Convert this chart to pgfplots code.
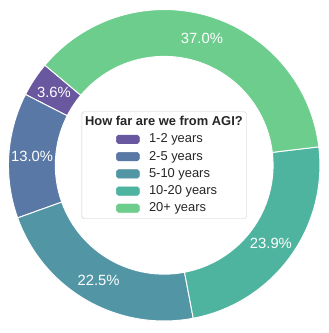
\documentclass[border=0pt]{standalone}
\usepackage{pgfplots}
\pgfplotsset{compat=1.18}
\usepackage{pgfplotstable}
\usepackage{fontspec}
\setmainfont{Liberation Sans}
\definecolor{c1}{HTML}{6958A0}
\definecolor{c2}{HTML}{5A78A5}
\definecolor{c3}{HTML}{5296A5}
\definecolor{c4}{HTML}{4EB4A0}
\definecolor{c5}{HTML}{6CCD8C}
\definecolor{txt}{HTML}{262626}
\pgfplotstableread{
value
3.6
13.0
22.5
23.9
37.0
}\agidata
\pgfplotsset{agipatch/.style={legend image code/.code={\path (-33bp,0); \fill[#1] (0bp,-4.5bp) rectangle (24bp,4.5bp);}}}
\begin{document}
\def\cum{140}
\foreach \i in {0,...,4}{%
  \pgfplotstablegetelem{\i}{value}\of\agidata
  \pgfmathsetmacro\sweep{\pgfplotsretval*3.6}%
  \pgfmathsetmacro\tmpe{\cum+\sweep}%
  \pgfmathsetmacro\tmpm{\cum+\sweep/2}%
  \expandafter\xdef\csname s\i\endcsname{\cum}%
  \expandafter\xdef\csname e\i\endcsname{\tmpe}%
  \expandafter\xdef\csname m\i\endcsname{\tmpm}%
  \expandafter\xdef\csname v\i\endcsname{\pgfplotsretval}%
  \xdef\cum{\tmpe}%
}%
\begin{tikzpicture}
\begin{axis}[
  hide axis, x=1bp, y=1bp, clip=false,
  xmin=-166, xmax=167, ymin=-166.5, ymax=165.5,
  legend style={at={(axis cs:0,0)}, anchor=center, draw=black!20, fill=white,
    rounded corners=2bp, font=\fontsize{13.5bp}{16bp}\selectfont, text=txt,
    inner xsep=3bp, inner ysep=3.5bp,
    nodes={inner sep=1bp, text height=10bp, text depth=3bp},
    column sep=9bp, row sep=3bp},
  legend cell align=left,
]
\path (axis cs:-166,-166.5) rectangle (axis cs:167,165.5);
\pgfplotsinvokeforeach{0,...,4}{
  \filldraw[fill=c\the\numexpr#1+1\relax, draw=white, line width=1bp]
    ([shift={(\csname s#1\endcsname:163bp)}]axis cs:0,0)
    arc[start angle=\csname s#1\endcsname, end angle=\csname e#1\endcsname, radius=163bp]
    -- ([shift={(\csname e#1\endcsname:114bp)}]axis cs:0,0)
    arc[start angle=\csname e#1\endcsname, end angle=\csname s#1\endcsname, radius=114bp]
    -- cycle;
  \node[text=white, font=\fontsize{15.5bp}{18bp}\selectfont]
    at ([shift={(\csname m#1\endcsname:138.5bp)}]axis cs:0,0)
    {\pgfmathprintnumber[fixed, fixed zerofill, precision=1, assume math mode=true]{\csname v#1\endcsname}\%};
}
\addlegendimage{empty legend}
\addlegendentry{\hspace*{-67bp}\textbf{How far are we from AGI?}}
\addlegendimage{agipatch=c1}
\addlegendentry{1-2 years}
\addlegendimage{agipatch=c2}
\addlegendentry{2-5 years}
\addlegendimage{agipatch=c3}
\addlegendentry{5-10 years}
\addlegendimage{agipatch=c4}
\addlegendentry{10-20 years}
\addlegendimage{agipatch=c5}
\addlegendentry{20+ years}
\end{axis}
\end{tikzpicture}
\end{document}
